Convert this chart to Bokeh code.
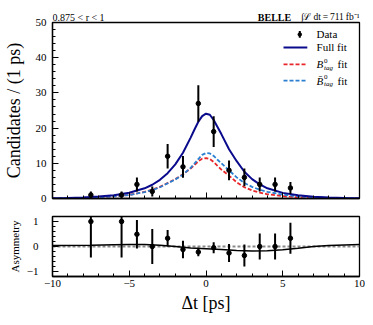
from bokeh.plotting import figure
from bokeh.layouts import column
from bokeh.models import (ColumnDataSource, Range1d, SingleIntervalTicker, Label, Span)
from bokeh.core.properties import value
from bokeh.embed import file_html
from bokeh.resources import INLINE

# ---------------- data ----------------
dt_bins = [-7.5, -5.5, -4.5, -3.5, -2.5, -1.5, -0.5, 0.5, 1.5, 2.5, 3.5, 4.5, 5.5]
counts = [1, 1, 4, 2, 12, 9, 27, 19, 8, 6, 4, 4, 3]
count_err = [1.0, 1.0, 2.0, 1.4, 3.5, 3.1, 5.2, 4.4, 2.8, 2.5, 2.0, 2.0, 1.7]

asym = [1.0, 1.0, 0.49, 0.0, 0.33, -0.12, -0.22, -0.05, -0.26, -0.36, 0.0, 0.0, 0.33]
asym_err = [1.44, 1.44, 0.57, 0.7, 0.33, 0.35, 0.17, 0.22, 0.36, 0.44, 0.52, 0.52, 0.62]

fit_x = [-10, -9, -8, -7, -6, -5, -4, -3.5, -3, -2.5, -2, -1.5, -1, -0.75, -0.5, -0.25,
         0, 0.25, 0.5, 0.75, 1, 1.5, 2, 2.5, 3, 3.5, 4, 5, 6, 7, 8, 9, 10]
fit_full = [0.08, 0.15, 0.3, 0.55, 0.95, 1.65, 2.9, 3.9, 5.3, 7.2, 9.7, 13.0, 17.3, 19.6,
            21.8, 23.4, 24.1, 23.8, 22.3, 20.3, 18.3, 14.0, 10.6, 7.6, 5.5, 4.0, 2.9,
            1.6, 0.95, 0.5, 0.27, 0.15, 0.08]
fit_bbar = [0.05, 0.1, 0.2, 0.35, 0.6, 1.0, 1.8, 2.4, 3.2, 4.3, 5.4, 6.8, 8.7, 9.9,
            11.2, 12.4, 12.9, 12.8, 12.1, 11.0, 10.0, 8.0, 6.0, 4.4, 3.3, 2.5, 1.9,
            1.1, 0.6, 0.35, 0.2, 0.1, 0.05]
fit_b = [0.05, 0.1, 0.2, 0.35, 0.6, 1.0, 1.9, 2.5, 3.3, 4.4, 5.5, 6.9, 8.5, 9.5,
         10.6, 11.3, 11.5, 11.2, 10.4, 9.3, 8.2, 6.5, 4.6, 3.2, 2.3, 1.7, 1.2,
         0.65, 0.35, 0.2, 0.1, 0.05, 0.03]

asym_fit_x = [-10, -7.5, -6, -5, -4, -3, -2, -1, 0, 1, 2, 3, 4, 5, 6, 7, 8, 10]
asym_fit = [0.04, 0.05, 0.07, 0.08, 0.08, 0.05, 0.0, -0.06, -0.09, -0.12, -0.16, -0.18,
            -0.17, -0.13, -0.07, 0.0, 0.04, 0.08]

x_ticks = [-10, -5, 0, 5, 10]
x_tick_labels = ["\u221210", "\u22125", "0", "5", "10"]
asym_ticks = [-1, 0, 1]
asym_tick_labels = ["\u22121", "0", "1"]

FONT = "Liberation Serif"
NAVY = "#0a0a8c"
RED = "#e8262a"
LBLUE = "#2a7fd0"
LEFT = 52

xr = Range1d(-10, 10)


def style_axes(p, label_size="11px"):
    p.outline_line_color = "black"
    p.outline_line_width = 1.3
    for ax in (p.xaxis[0], p.yaxis[0]):
        ax.axis_line_color = "black"
        ax.axis_line_width = 1.3
        ax.major_tick_in = 6
        ax.major_tick_out = 0
        ax.minor_tick_in = 3
        ax.minor_tick_out = 0
        ax.major_tick_line_color = "black"
        ax.minor_tick_line_color = "black"
        ax.major_label_text_font = FONT
        ax.major_label_text_font_size = label_size
        ax.major_label_text_color = "black"
        ax.axis_label_text_font = FONT
        ax.axis_label_text_font_style = "normal"
        ax.axis_label_text_color = "black"
    p.xgrid.visible = False
    p.ygrid.visible = False
    p.background_fill_color = "white"
    p.border_fill_color = None


# ---------------- header strip (overlapped by the top panel's border) ----------------
ph = figure(frame_width=307, frame_height=28, x_range=xr, y_range=Range1d(0, 1),
            output_backend="svg", toolbar_location=None,
            min_border_left=LEFT, min_border_right=6, min_border_top=0, min_border_bottom=0)
ph.axis.visible = False
ph.grid.visible = False
ph.outline_line_color = None
ph.background_fill_color = None
ph.border_fill_color = None
HY = 0.41
ph.text(x=[-10], y=[HY], text=["0.875 < r < 1"], text_font=value(FONT),
        text_font_size="10px", text_baseline="alphabetic", text_align="left",
        text_color="black")
ph.text(x=[5.55], y=[HY], text=["BELLE"], text_font=value(FONT),
        text_font_size="10px", text_font_style="bold", text_baseline="alphabetic",
        text_align="right", text_color="black")
ph.text(x=[10], y=[HY], text=["\u222b\u2112\u2009dt\u2009=\u2009711\u2009fb\u207b\u00b9"],
        text_font=value(FONT), text_font_size="9.5px", text_baseline="alphabetic",
        text_align="right", text_color="black")

# ---------------- top panel ----------------
p1 = figure(frame_width=307, frame_height=176, x_range=xr, y_range=Range1d(0, 50),
            output_backend="svg", toolbar_location=None,
            min_border_left=LEFT, min_border_right=6, min_border_top=8, min_border_bottom=9)
p1.margin = (-14, 0, 0, 0)
style_axes(p1)
p1.xaxis.ticker = SingleIntervalTicker(interval=5, num_minor_ticks=5)
p1.xaxis.major_label_text_font_size = "0px"
p1.xaxis.major_label_standoff = 0
p1.yaxis.ticker = SingleIntervalTicker(interval=10, num_minor_ticks=5)
p1.yaxis.major_label_standoff = 6
p1.yaxis.axis_label = "Candidates / (1 ps)"
p1.yaxis.axis_label_text_font_size = "18px"
p1.yaxis.axis_label_standoff = 9

fit_src = ColumnDataSource(dict(x=fit_x, full=fit_full, b=fit_b, bbar=fit_bbar))
p1.line("x", "b", source=fit_src, line_color=RED, line_width=1.8, line_dash="4 2")
p1.line("x", "bbar", source=fit_src, line_color=LBLUE, line_width=1.8, line_dash="4 2")
p1.line("x", "full", source=fit_src, line_color=NAVY, line_width=2)

d_src = ColumnDataSource(dict(
    x=dt_bins, y=counts,
    lo=[c - e for c, e in zip(counts, count_err)],
    hi=[c + e for c, e in zip(counts, count_err)]))
p1.segment(x0="x", x1="x", y0="lo", y1="hi", source=d_src, line_color="black", line_width=2)
p1.scatter("x", "y", source=d_src, size=4.5, color="black")

# legend (manual, to allow sub/superscripts)
leg_y = [46.6, 42.9, 38.1, 33.5]
leg_tx = 7.2
p1.segment(x0=[6.11], x1=[6.11], y0=[leg_y[0] - 0.95], y1=[leg_y[0] + 0.95],
           line_color="black", line_width=2)
p1.scatter([6.11], [leg_y[0]], size=3.5, color="black")
p1.segment(x0=[5.05], x1=[6.6], y0=[leg_y[1]], y1=[leg_y[1]], line_color=NAVY, line_width=2)
p1.segment(x0=[5.05], x1=[6.6], y0=[leg_y[2]], y1=[leg_y[2]], line_color=RED,
           line_width=1.8, line_dash="4 2")
p1.segment(x0=[5.05], x1=[6.6], y0=[leg_y[3]], y1=[leg_y[3]], line_color=LBLUE,
           line_width=1.8, line_dash="4 2")


def ltext(txt, y, xo=0, yo=0, size="11px", style="normal"):
    p1.add_layout(Label(x=leg_tx, y=y, x_offset=xo, y_offset=yo, text=txt, text_font=FONT,
                        text_font_size=size, text_font_style=style, text_baseline="middle",
                        text_align="left", text_color="black"))


ltext("Data", leg_y[0])
ltext("Full fit", leg_y[1])
for yy, bsym in ((leg_y[2], "B"), (leg_y[3], "B\u0304")):
    ltext(bsym, yy, style="italic")
    ltext("0", yy, xo=7.5, yo=3.5, size="7px")
    ltext("tag", yy, xo=7.5, yo=-3.5, size="7px", style="italic")
    ltext("fit", yy, xo=21)

# ---------------- bottom panel ----------------
p2 = figure(frame_width=307, frame_height=60, x_range=xr, y_range=Range1d(-1.2, 1.2),
            output_backend="svg", toolbar_location=None,
            min_border_left=LEFT, min_border_right=6, min_border_top=9, min_border_bottom=41)
style_axes(p2)
p2.xaxis.ticker = SingleIntervalTicker(interval=5, num_minor_ticks=5)
p2.xaxis.major_label_overrides = {t: l for t, l in zip(x_ticks, x_tick_labels)}
p2.xaxis.major_label_standoff = 3
p2.xaxis.axis_label = "\u0394t [ps]"
p2.xaxis.axis_label_text_font_size = "18px"
p2.xaxis.axis_label_standoff = 3
p2.yaxis.ticker = SingleIntervalTicker(interval=1, num_minor_ticks=5)
p2.yaxis.major_label_overrides = {t: l for t, l in zip(asym_ticks, asym_tick_labels)}
p2.yaxis.major_label_standoff = 14
p2.yaxis.axis_label = "Asymmetry"
p2.yaxis.axis_label_text_font_size = "11px"
p2.yaxis.axis_label_standoff = 3

p2.add_layout(Span(location=0, dimension="width", line_color="#8a8a8a", line_width=2,
                   line_dash="3 2", level="underlay"))
p2.line(asym_fit_x, asym_fit, line_color="black", line_width=1.6)
a_src = ColumnDataSource(dict(
    x=dt_bins, y=asym,
    lo=[a - e for a, e in zip(asym, asym_err)],
    hi=[a + e for a, e in zip(asym, asym_err)]))
p2.segment(x0="x", x1="x", y0="lo", y1="hi", source=a_src, line_color="black", line_width=2)
p2.scatter("x", "y", source=a_src, size=4.5, color="black")

layout = column(ph, p1, p2, spacing=0)
open("out.html", "w").write(file_html(layout, INLINE))
